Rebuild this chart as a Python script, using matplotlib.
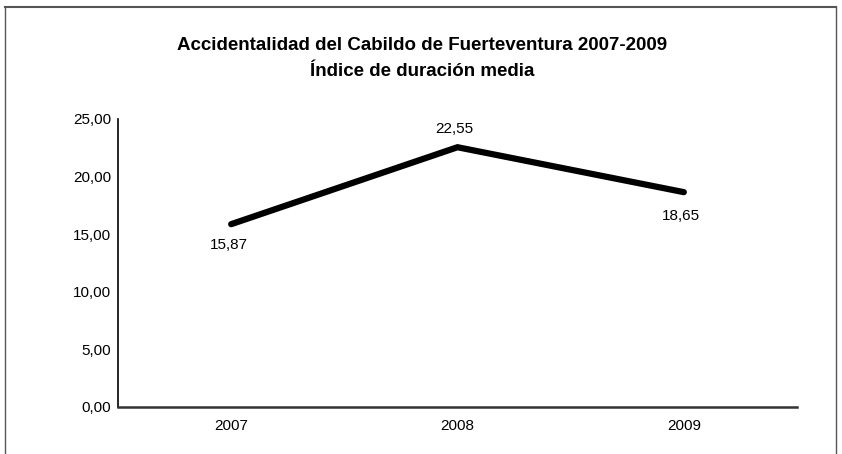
import matplotlib
matplotlib.use("Agg")
import matplotlib.pyplot as plt

plt.rcParams['font.family'] = ['Liberation Sans', 'DejaVu Sans']

years = ['2007', '2008', '2009']
values = [15.87, 22.55, 18.65]
value_labels = ['15,87', '22,55', '18,65']
yticks = [0, 5, 10, 15, 20, 25]
ytick_labels = ['0,00', '5,00', '10,00', '15,00', '20,00', '25,00']

fig = plt.figure(figsize=(8.42, 4.54), dpi=100)
ax = fig.add_axes([118/842, 1-407/454, 679/842, 288/454])

x = list(range(len(years)))
ax.plot(x, values, color='black', linewidth=4.5, solid_capstyle='round', solid_joinstyle='miter')

offsets = [-15, 13, -17]
for xi, v, lab, off in zip(x, values, value_labels, offsets):
    ax.annotate(lab, (xi, v), xytext=(-2, off), textcoords='offset points',
                ha='center', va='center', fontsize=11)

ax.set_xlim(-0.5, 2.5)
ax.set_ylim(0, 25)
ax.set_xticks(x)
ax.set_xticklabels(years, fontsize=11)
ax.set_yticks(yticks)
ax.set_yticklabels(ytick_labels, fontsize=11)
ax.tick_params(axis='y', length=0, pad=5)
ax.tick_params(axis='x', length=0, pad=9)
for s in ['top', 'right']:
    ax.spines[s].set_visible(False)
ax.spines['left'].set_linewidth(1.2)
ax.spines['bottom'].set_linewidth(1.8)
ax.spines['bottom'].set_color('#333333')

fig.text(422/842, 1-45/454, 'Accidentalidad del Cabildo de Fuerteventura 2007-2009',
         ha='center', va='center', fontsize=13.5, fontweight='bold')
fig.text(422/842, 1-72/454, 'Índice de duración media',
         ha='center', va='center', fontsize=13.5, fontweight='bold')

# figure border (top, left, right)
fig.add_artist(plt.Line2D([5/842, 836/842], [1-7/454, 1-7/454], transform=fig.transFigure, color='#555555', lw=1.5))
fig.add_artist(plt.Line2D([5/842, 5/842], [1-7/454, 0], transform=fig.transFigure, color='#555555', lw=1))
fig.add_artist(plt.Line2D([836/842, 836/842], [1-7/454, 0], transform=fig.transFigure, color='#555555', lw=1))

fig.savefig('out.png', dpi=100)
